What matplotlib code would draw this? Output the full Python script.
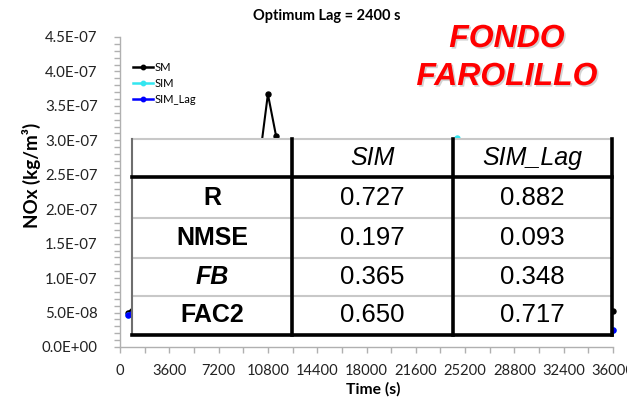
import numpy as np
import matplotlib
matplotlib.use("Agg")
import matplotlib.pyplot as plt
from matplotlib.ticker import MultipleLocator, FuncFormatter
from matplotlib.patches import Rectangle
import matplotlib.patheffects as pe

# ---------------------------------------------------------------- data
time_s = np.arange(600, 36001, 600)

# observed NOx (x 1e-8 kg/m3)
sm = np.array([
    5.0, 6.2, 7.5, 9.1, 11.8, 14.2, 13.5, 15.9, 18.4, 17.1,
    20.3, 22.6, 21.0, 23.8, 25.1, 22.4, 27.4, 36.7, 30.6, 26.2,
    24.0, 25.8, 22.9, 21.5, 23.2, 20.1, 18.7, 19.9, 17.3, 16.5,
    18.0, 15.6, 14.8, 16.1, 13.9, 12.7, 14.3, 12.1, 11.4, 12.8,
    10.9, 10.2, 11.5, 9.8, 9.1, 10.4, 8.7, 8.2, 9.3, 7.9,
    7.4, 8.1, 6.9, 6.5, 7.2, 6.1, 5.8, 6.3, 5.6, 5.2,
]) * 1e-8

# simulated NOx
sim = np.array([
    4.6, 5.3, 6.0, 6.8, 7.7, 8.9, 10.2, 9.6, 11.3, 12.5,
    11.8, 13.4, 14.6, 13.1, 15.2, 16.0, 14.7, 17.3, 18.9, 17.6,
    19.8, 21.0, 18.5, 20.7, 22.4, 19.6, 21.8, 23.1, 20.4, 22.0,
    24.3, 21.5, 19.2, 20.8, 17.9, 16.4, 18.2, 21.6, 24.9, 27.3,
    30.3, 25.4, 21.2, 17.8, 15.1, 13.6, 11.9, 10.7, 9.5, 8.6,
    7.8, 6.9, 6.1, 5.4, 4.8, 4.2, 3.7, 3.3, 2.9, 2.5,
]) * 1e-8

# simulated NOx with the optimum lag applied
sim_lag = np.array([
    4.6, 5.8, 6.9, 8.3, 10.1, 11.6, 12.9, 14.8, 15.5, 17.2,
    18.6, 17.9, 20.4, 21.7, 23.3, 22.1, 24.6, 26.0, 24.2, 22.8,
    23.9, 21.4, 20.6, 22.1, 19.3, 18.2, 19.7, 17.0, 16.4, 17.8,
    15.2, 14.5, 15.9, 13.3, 12.6, 13.8, 11.7, 11.1, 12.2, 10.5,
    9.9, 10.8, 9.2, 8.7, 9.6, 8.0, 7.6, 8.3, 7.0, 6.6,
    7.1, 6.0, 5.6, 5.9, 4.9, 4.4, 3.9, 3.4, 2.9, 2.5,
]) * 1e-8

metrics = ["R", "NMSE", "FB", "FAC2"]
stat_columns = ["SIM", "SIM_Lag"]
sim_stats = [0.727, 0.197, 0.365, 0.650]
lag_stats = [0.882, 0.093, 0.348, 0.717]

# ---------------------------------------------------------------- layout
W, H, DPI = 627, 405, 100
fig = plt.figure(figsize=(W / DPI, H / DPI), dpi=DPI)
fig.patch.set_facecolor("white")


def fx(px):
    return px / W


def fy(py):
    return 1 - py / H


UI_FONT = "Lato"
TABLE_FONT = "Liberation Sans"

ax = fig.add_axes([fx(120), fy(347), fx(613) - fx(120), fy(37) - fy(347)])

ax.plot(time_s, sm, color="black", marker="o", ms=3.6, lw=1.5,
        label="SM", clip_on=False, zorder=3)
ax.plot(time_s, sim, color="#33E6F0", marker="o", ms=3.6, lw=1.5,
        label="SIM", clip_on=False, zorder=3)
ax.plot(time_s, sim_lag, color="#0000FF", marker="o", ms=3.6, lw=1.5,
        label="SIM_Lag", clip_on=False, zorder=3)

ax.set_xlim(0, 36000)
ax.set_ylim(0, 4.5e-7)

ax.xaxis.set_major_locator(MultipleLocator(3600))
ax.xaxis.set_minor_locator(MultipleLocator(1800))
ax.xaxis.set_major_formatter(FuncFormatter(lambda v, p: f"{v:.0f}"))
ax.yaxis.set_major_locator(MultipleLocator(5e-8))
ax.yaxis.set_minor_locator(MultipleLocator(1e-8))
ax.yaxis.set_major_formatter(FuncFormatter(lambda v, p: f"{v:.1E}"))

axis_grey = "#b0b0b0"
for side in ("top", "right"):
    ax.spines[side].set_visible(False)
for side in ("left", "bottom"):
    ax.spines[side].set_color(axis_grey)
    ax.spines[side].set_linewidth(1.0)

ax.tick_params(axis="both", which="both", direction="out", color=axis_grey,
               width=1.0, length=4)
ax.tick_params(axis="y", which="major", pad=12, labelsize=10.8,
               labelcolor="#222222")
ax.tick_params(axis="x", which="major", pad=8, labelsize=10.6,
               labelcolor="#222222")
for lbl in ax.get_xticklabels() + ax.get_yticklabels():
    lbl.set_fontfamily(UI_FONT)

ax.set_facecolor("none")

fig.text(fx(31), fy(175), "NOx (kg/m\u00b3)", rotation=90, ha="center",
         va="center", fontsize=13.5, fontweight="bold", family=UI_FONT)
fig.text(fx(373), fy(389), "Time (s)", ha="center", va="center",
         fontsize=11.3, fontweight="bold", family=UI_FONT)
fig.text(fx(327), fy(16), "Optimum Lag = 2400 s", ha="center", va="center",
         fontsize=10.5, fontweight="bold", family=UI_FONT)

station_fx = [pe.withSimplePatchShadow(offset=(1.2, -1.2),
                                       shadow_rgbFace="#808080", alpha=0.35)]
for text, ypix in (("FONDO", 39), ("FAROLILLO", 77)):
    fig.text(fx(507), fy(ypix), text, ha="center", va="center",
             fontsize=23, fontweight="bold", fontstyle="italic",
             color="#FF0000", family=TABLE_FONT, path_effects=station_fx)

leg = ax.legend(loc="upper left", bbox_to_anchor=(fx(133), fy(62)),
                bbox_transform=fig.transFigure, frameon=False,
                handlelength=1.8, handletextpad=0.15, labelspacing=0.45,
                borderpad=0, borderaxespad=0,
                prop={"family": UI_FONT, "size": 8})
for line in leg.get_lines():
    line.set_markersize(3.2)
    line.set_linewidth(1.8)

# ---------------------------------------------------------------- table
tax = fig.add_axes([fx(132), fy(335), fx(612) - fx(132), fy(139) - fy(335)],
                   zorder=5)
tax.set_xlim(0, 1)
tax.set_ylim(1, 0)
tax.axis("off")
tax.add_patch(Rectangle((0, 0), 1, 1, facecolor="white", edgecolor="none",
                        clip_on=False, zorder=0))

col_edges = [0.0, 0.333, 0.669, 1.0]
row_edges = [0.0, 0.194, 0.403, 0.607, 0.801, 1.0]
light = "#c8c8c8"

tax.plot([0, 1], [0, 0], color=light, lw=1.5, clip_on=False)
for yy in row_edges[2:-1]:
    tax.plot([0, 1], [yy, yy], color=light, lw=1.5, clip_on=False)
tax.plot([0, 0], [0, 1], color="#6e6e6e", lw=1.5, clip_on=False)
tax.plot([0, 1], [row_edges[1]] * 2, color="black", lw=2.6, clip_on=False)
tax.plot([0, 1], [1, 1], color="black", lw=2.6, clip_on=False)
for xx in col_edges[1:]:
    tax.plot([xx, xx], [0, 1], color="black", lw=2.6, clip_on=False)

col_centres = [(col_edges[i] + col_edges[i + 1]) / 2 for i in range(3)]
row_centres = [(row_edges[i] + row_edges[i + 1]) / 2 for i in range(5)]

for j, name in enumerate(stat_columns):
    tax.text(col_centres[j + 1], row_centres[0], name, ha="center",
             va="center", fontsize=18, fontstyle="italic", family=TABLE_FONT)

for i, name in enumerate(metrics):
    yy = row_centres[i + 1]
    tax.text(col_centres[0], yy, name, ha="center", va="center", fontsize=18,
             fontweight="bold",
             fontstyle="italic" if name == "FB" else "normal",
             family=TABLE_FONT)
    tax.text(col_centres[1], yy, f"{sim_stats[i]:.3f}", ha="center",
             va="center", fontsize=18.5, family=TABLE_FONT)
    tax.text(col_centres[2], yy, f"{lag_stats[i]:.3f}", ha="center",
             va="center", fontsize=18.5, family=TABLE_FONT)

fig.savefig("out.png", dpi=DPI)
